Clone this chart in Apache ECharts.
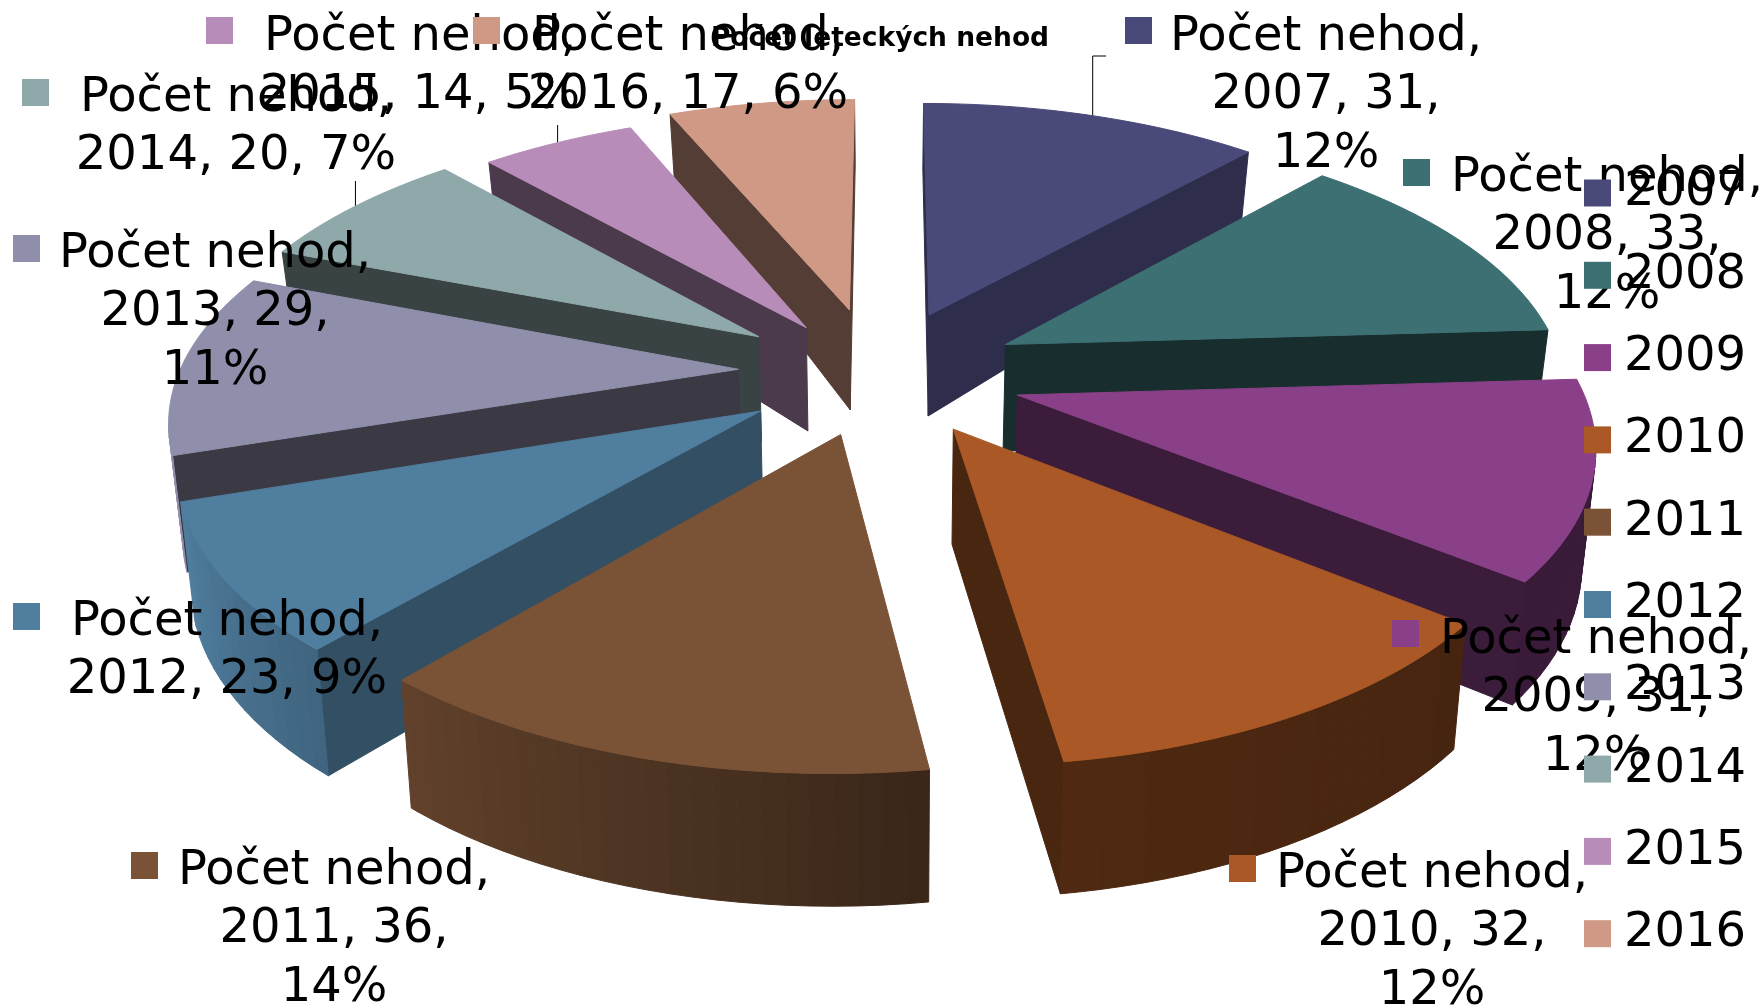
<!DOCTYPE html>
<html>
<head>
<meta charset="utf-8">
<style>html,body{margin:0;padding:0;background:#fff}#main{width:1762px;height:1008px}</style>
<script src="https://cdn.jsdelivr.net/npm/echarts@6/dist/echarts.min.js"></script>
</head>
<body>
<div id="main"></div>
<script>
var years = ['2007', '2008', '2009', '2010', '2011', '2012', '2013', '2014', '2015', '2016'];
var counts = [31, 33, 31, 32, 36, 23, 29, 20, 14, 17];
var percents = [12, 12, 12, 12, 14, 9, 11, 7, 5, 6];
var seriesName = 'Počet nehod';
var colors = ['#4a4a7a', '#3c7073', '#8a4088', '#a95826', '#7a5236', '#507e9f', '#908fab', '#8fa8a9', '#b88cb9', '#cf9985'];
var wallShade = [0.62, 0.4, 0.43, 0.43, 0.48, 0.63, 0.4, 0.4, 0.41, 0.4];
var explode = [0.227, 0.23, 0.238, 0.235, 0.24, 0.26, 0.26, 0.263, 0.22, 0.245];
var explodeTurn = [-2, 0, 4, 2, 3, 0, 0, -5, -9, -5];
// swatch x, swatch y, first line centre x, first baseline, number of lines
var labelBox = [
    [1125, 17, 1326, 50, 3],
    [1403, 159, 1607, 191, 3],
    [1392, 620, 1596, 653, 3],
    [1229, 855, 1432, 887, 3],
    [131, 852, 334, 884, 3],
    [13, 603, 227, 635, 2],
    [13, 235, 215, 267, 3],
    [22, 79, 236, 111, 2],
    [206, 17, 420, 50, 2],
    [473, 17, 688, 50, 2]
];
var leaders = { 0: [56, 1106], 7: [181, 0], 8: [125, 0] };

var CX = 888, CY = 371, RX = 576, RY = 270, RADIUS = 0.97, PERSP = 0.165, DEPTH = 112, STEP = 2;
var FONT = 'DejaVu Sans';
var total = counts.reduce(function (a, b) { return a + b; }, 0);

// start / end angle of every slice, clockwise from 12 o'clock
var slices = [];
counts.reduce(function (acc, v) {
    var sweep = v / total * 360;
    slices.push({ a: acc, b: acc + sweep, mid: acc + sweep / 2 });
    return acc + sweep;
}, 0);

function rad(d) { return d * Math.PI / 180; }

function groundPoint(i, deg, r) {
    var m = rad(slices[i].mid + explodeTurn[i]), e = explode[i];
    return [Math.sin(rad(deg)) * r + Math.sin(m) * e, -Math.cos(rad(deg)) * r - Math.cos(m) * e];
}
function scaleAt(y) { return 1 / (1 - PERSP * y); }
function topOf(p) {
    var s = scaleAt(p[1]);
    return [CX + RX * p[0] * s, CY + RY * p[1] * s];
}
function botOf(p) {
    var t = topOf(p), s = scaleAt(p[1]);
    var d = DEPTH * (s < 1 ? s * s * s : Math.pow(s, 0.77));
    return [CX + (t[0] - CX) * 0.98, t[1] + d];
}
function facesViewer(normal, p) {
    return normal[0] * (0 - p[0]) + normal[1] * (1 / PERSP - p[1]) > 0;
}
function shade(hex, f) {
    var n = parseInt(hex.slice(1), 16);
    var c = [n >> 16, (n >> 8) & 255, n & 255].map(function (v) { return Math.round(v * f); });
    return 'rgb(' + c.join(',') + ')';
}
function rimShade(deg) {
    if (deg < 128) return 0.41;
    if (deg < 172) return 0.41 + 0.06 * (deg - 128) / 44;
    return Math.min(1, 0.47 + 0.53 * (deg - 172) / 79);
}
function poly(points, fill) {
    return {
        type: 'polygon',
        shape: { points: points },
        style: { fill: fill, stroke: fill, lineWidth: 1 }
    };
}

function renderSlice(i) {
    var sl = slices[i], kids = [];
    var apex = groundPoint(i, sl.a, 0);
    var wallColor = shade(colors[i], wallShade[i]);

    [[sl.a, -1], [sl.b, 1]].forEach(function (w) {
        var th = rad(w[0]);
        var normal = [w[1] * Math.cos(th), w[1] * Math.sin(th)];
        var rim = groundPoint(i, w[0], RADIUS);
        if (facesViewer(normal, rim)) {
            kids.push(poly([topOf(apex), topOf(rim), botOf(rim), botOf(apex)], wallColor));
        }
    });

    var deg, rimPts = [];
    for (deg = sl.a; deg < sl.b; deg += STEP) rimPts.push(deg);
    rimPts.push(sl.b);

    for (var k = 0; k < rimPts.length - 1; k++) {
        var d0 = rimPts[k], d1 = rimPts[k + 1], dm = (d0 + d1) / 2;
        var p0 = groundPoint(i, d0, RADIUS), p1 = groundPoint(i, d1, RADIUS);
        var n = [Math.sin(rad(dm)), -Math.cos(rad(dm))];
        if (facesViewer(n, groundPoint(i, dm, RADIUS))) {
            kids.push(poly([topOf(p0), topOf(p1), botOf(p1), botOf(p0)], shade(colors[i], rimShade(dm))));
        }
    }

    var top = [topOf(apex)];
    rimPts.forEach(function (d) { top.push(topOf(groundPoint(i, d, RADIUS))); });
    kids.push(poly(top, colors[i]));
    return { type: 'group', children: kids };
}

// back slices first
var order = years.map(function (y, i) { return i; }).sort(function (p, q) {
    return -Math.cos(rad(slices[p].mid)) + Math.cos(rad(slices[q].mid));
});

var series = years.map(function (y, i) {
    return {
        type: 'custom',
        name: y,
        coordinateSystem: 'none',
        silent: true,
        z: 2 + order.indexOf(i),
        itemStyle: { color: colors[i] },
        data: [[counts[i]]],
        renderItem: function () { return renderSlice(i); }
    };
});

var graphics = [];
years.forEach(function (y, i) {
    var box = labelBox[i];
    var tokens = [seriesName + ',', y + ', ' + counts[i] + ',', percents[i] + '%'];
    var text = box[4] === 3 ? tokens.join('\n') : tokens[0] + '\n' + tokens[1] + ' ' + tokens[2];
    graphics.push({
        type: 'rect', z: 20, silent: true,
        shape: { x: box[0], y: box[1], width: 27, height: 27 },
        style: { fill: colors[i] }
    });
    graphics.push({
        type: 'text', z: 20, silent: true,
        x: box[2], y: box[3] - 42,
        style: { text: text, font: '48px "' + FONT + '"', lineHeight: 58.5, fill: '#000', align: 'center', verticalAlign: 'top' }
    });
    if (leaders[i]) {
        var s = topOf(groundPoint(i, slices[i].mid, RADIUS));
        var pts = [[s[0], s[1]], [s[0], leaders[i][0]]];
        if (leaders[i][1]) pts.push([leaders[i][1], leaders[i][0]]);
        graphics.push({
            type: 'polyline', z: 1, silent: true,
            shape: { points: pts },
            style: { stroke: '#000', lineWidth: 1, fill: null }
        });
    }
});

var chart = echarts.init(document.getElementById('main'));
chart.setOption({
    animation: false,
    backgroundColor: '#fff',
    title: {
        text: 'Počet leteckých nehod',
        left: 875, top: 34, z: 40,
        textAlign: 'center', textVerticalAlign: 'middle',
        textStyle: { fontFamily: FONT, fontWeight: 'bold', fontSize: 26.5, color: '#000' }
    },
    legend: {
        orient: 'vertical',
        left: 1584, top: 169,
        z: 30,
        data: years,
        icon: 'rect',
        itemWidth: 27, itemHeight: 27,
        itemGap: 34.3,
        padding: 0,
        selectedMode: false,
        textStyle: { fontFamily: FONT, fontSize: 48, color: '#000', padding: [0, 0, 0, 8] }
    },
    graphic: { elements: graphics },
    series: series
});
</script>
</body>
</html>
